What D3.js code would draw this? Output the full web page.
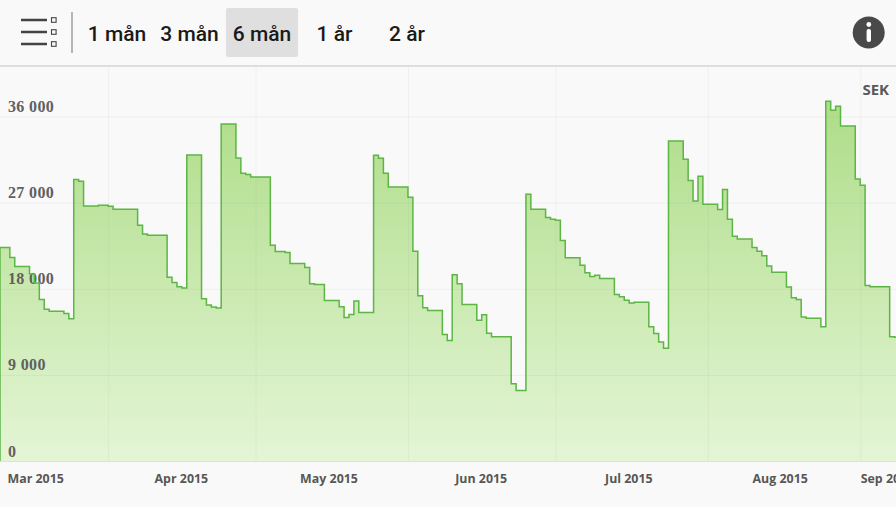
<!DOCTYPE html>
<html><head><meta charset="utf-8">
<script src="https://cdn.jsdelivr.net/npm/d3@7"></script>
<style>
html,body{margin:0;padding:0;background:#f9f9f9;overflow:hidden}
svg{display:block}
.btn{font-family:Roboto,sans-serif;font-weight:500;font-size:21px;fill:#1a1a1a;text-anchor:middle}
.ytick text{font-family:"Liberation Serif",serif;font-weight:700;font-size:16px;letter-spacing:.35px;fill:#606060}
.xtick text{font-family:"Open Sans",sans-serif;font-weight:700;font-size:12.4px;fill:#575757}
</style></head><body>
<svg id="c" width="896" height="507"></svg>
<script>
const startDate = "2015-03-10";
const dailyValues = [
22310,22310,21270,20330,20330,20330,19530,18590,16880,15870,15660,15660,15660,15420,14860,
29410,29240,26660,26660,26660,26730,26730,26630,26310,26310,26310,26310,26310,24640,23730,
23600,23600,23600,23600,19210,18660,18200,18090,31980,31980,31980,16950,16290,16080,15980,
35220,35220,35220,31670,30070,29930,29680,29680,29680,29680,22550,21900,21900,21790,20640,
20640,20640,20220,18510,18450,18450,16780,16780,16780,16110,15000,15320,16710,15530,15530,
15530,31950,31640,30070,28640,28640,28640,28640,27560,21930,17260,16010,15740,15740,15740,
13230,12600,19450,18510,16360,16360,16360,14720,15280,13360,12980,12980,12980,12980,8070,
7380,7380,27880,26310,26310,26310,25450,25270,25160,23040,21230,21230,21230,20460,19660,
19290,19420,19080,19080,19080,17410,17160,16810,16500,16600,16600,16600,14020,13330,12430,
11770,33440,33440,33440,31530,29310,27180,29760,26830,26830,26830,26280,28370,25270,23490,
23210,23210,23210,22310,21930,21440,20390,19730,19730,19730,18170,17050,16880,15040,14930,
14930,14930,14020,37590,36650,37070,35010,35010,35010,29480,28820,18350,18200,18200,18200,
18200,12980,12920
];
const yTicks = [0, 9000, 18000, 27000, 36000];
const gridMonths = ["2015-04-01","2015-05-01","2015-06-01","2015-07-01","2015-08-01","2015-09-01"];
const monthLabels = ["Mar 2015","Apr 2015","May 2015","Jun 2015","Jul 2015","Aug 2015","Sep 2015"];
const monthLabelDates = ["2015-03-11T10:00Z","2015-04-15T19:00Z","2015-05-15T20:00Z","2015-06-15T19:00Z","2015-07-15T20:00Z","2015-08-15T15:00Z","2015-09-01"];
const rangeButtons = ["1 mån","3 mån","6 mån","1 år","2 år"];
const activeButton = "6 mån";
const currency = "SEK";

const svg = d3.select("#c");
const W = 896, plotTop = 67, plotBottom = 461;
const parseD = s => new Date(s.length === 10 ? s + "T00:00Z" : s);
const d0 = parseD(startDate);
const series = dailyValues.map((v,i)=>({date:d3.utcDay.offset(d0,i),v}));
series.push({date:d3.utcDay.offset(d0,dailyValues.length),v:dailyValues[dailyValues.length-1]});

const x = d3.scaleUtc().domain([d0,d3.utcDay.offset(d0,183)]).range([0,899.5]);
const y = d3.scaleLinear().domain([0,36000]).range([plotBottom,116.5]);

const defs = svg.append("defs");
const grad = defs.append("linearGradient").attr("id","fillG").attr("gradientUnits","userSpaceOnUse")
  .attr("x1",0).attr("x2",0).attr("y1",y(37590)).attr("y2",plotBottom);
grad.append("stop").attr("offset",0).attr("stop-color","#aedd88");
grad.append("stop").attr("offset",1).attr("stop-color","#e4f5d6");

const areaGen = d3.area().curve(d3.curveStepAfter).x(d=>x(d.date)).y0(plotBottom).y1(d=>y(d.v));
const lineGen = d3.line().curve(d3.curveStepAfter).x(d=>x(d.date)).y(d=>y(d.v));
svg.append("path").datum(series).attr("d",areaGen).attr("fill","url(#fillG)");

// Y grid
const yAxis = d3.axisRight(y).tickValues(yTicks).tickSize(W)
  .tickFormat(d=>d3.format(",")(d).replace(/,/g," "));
const gy = svg.append("g").attr("class","ytick").call(yAxis);
gy.select(".domain").remove();
gy.selectAll("line").attr("stroke","#8a8a8a").attr("stroke-opacity",.09);
gy.selectAll("text").attr("x",8).attr("y",-5).attr("dy",0).attr("text-anchor","start");

// X grid
const xGrid = d3.axisTop(x).tickValues(gridMonths.map(parseD)).tickSize(plotBottom-plotTop).tickFormat("");
const gx = svg.append("g").attr("transform",`translate(0,${plotBottom})`).call(xGrid);
gx.select(".domain").remove();
gx.selectAll("line").attr("stroke","#8a8a8a").attr("stroke-opacity",.08);

// Step line, with the left edge down to the baseline
svg.append("path").datum(series).attr("d",lineGen).attr("fill","none")
  .attr("stroke","#5cb545").attr("stroke-width",1.5);
svg.append("line").attr("x1",x(d0)+.25).attr("x2",x(d0)+.25).attr("y1",y(dailyValues[0])).attr("y2",plotBottom)
  .attr("stroke","#6cbc55").attr("stroke-width",1.2);

// Baseline
svg.append("line").attr("x1",0).attr("x2",W).attr("y1",plotBottom+.5).attr("y2",plotBottom+.5).attr("stroke","#d9e5cf");

// X labels
const xLabels = d3.axisBottom(x).tickValues(monthLabelDates.map(parseD)).tickSize(0)
  .tickFormat((d,i)=>monthLabels[i]);
const gl = svg.append("g").attr("class","xtick").attr("transform",`translate(0,${plotBottom})`).call(xLabels);
gl.select(".domain").remove();
gl.selectAll("text").attr("y",13.5).attr("dy",".71em")
  .attr("text-anchor",(d,i)=>(i===0||i===monthLabels.length-1)?"start":"middle");

// Currency
svg.append("text").attr("x",889).attr("y",95).attr("text-anchor","end")
  .attr("font-family","Open Sans,sans-serif").attr("font-weight",700).attr("font-size",15).attr("fill","#595959").text(currency);

// Header
svg.append("rect").attr("x",0).attr("y",0).attr("width",W).attr("height",66).attr("fill","#f9f9f9");
svg.append("line").attr("x1",0).attr("x2",W).attr("y1",66).attr("y2",66).attr("stroke","#d4d4d4").attr("stroke-width",1.3);
[20,32,44].forEach(yy=>{
  svg.append("rect").attr("x",21).attr("y",yy-1.25).attr("width",26).attr("height",2.5).attr("fill","#444");
  svg.append("rect").attr("x",51.5).attr("y",yy-2.3).attr("width",4.6).attr("height",4.6).attr("fill","none").attr("stroke","#444").attr("stroke-width",1.1);
});
svg.append("line").attr("x1",72).attr("x2",72).attr("y1",12).attr("y2",53).attr("stroke","#888").attr("stroke-width",1.2);
const bx = d3.scalePoint().domain(rangeButtons).range([117,407]);
svg.append("rect").attr("x",226).attr("y",8).attr("width",72).attr("height",49).attr("rx",2).attr("fill","#dfdfdf");
svg.selectAll(".btn").data(rangeButtons).join("text").attr("class","btn")
  .attr("x",d=>bx(d)).attr("y",40.5).text(d=>d);
svg.append("circle").attr("cx",868.7).attr("cy",32.5).attr("r",16).attr("fill","#494949");
svg.append("rect").attr("x",866.6).attr("y",29).attr("width",4.4).attr("height",13).attr("rx",2).attr("fill","#fff");
svg.append("circle").attr("cx",868.8).attr("cy",24.5).attr("r",2.4).attr("fill","#fff");
</script></body></html>
